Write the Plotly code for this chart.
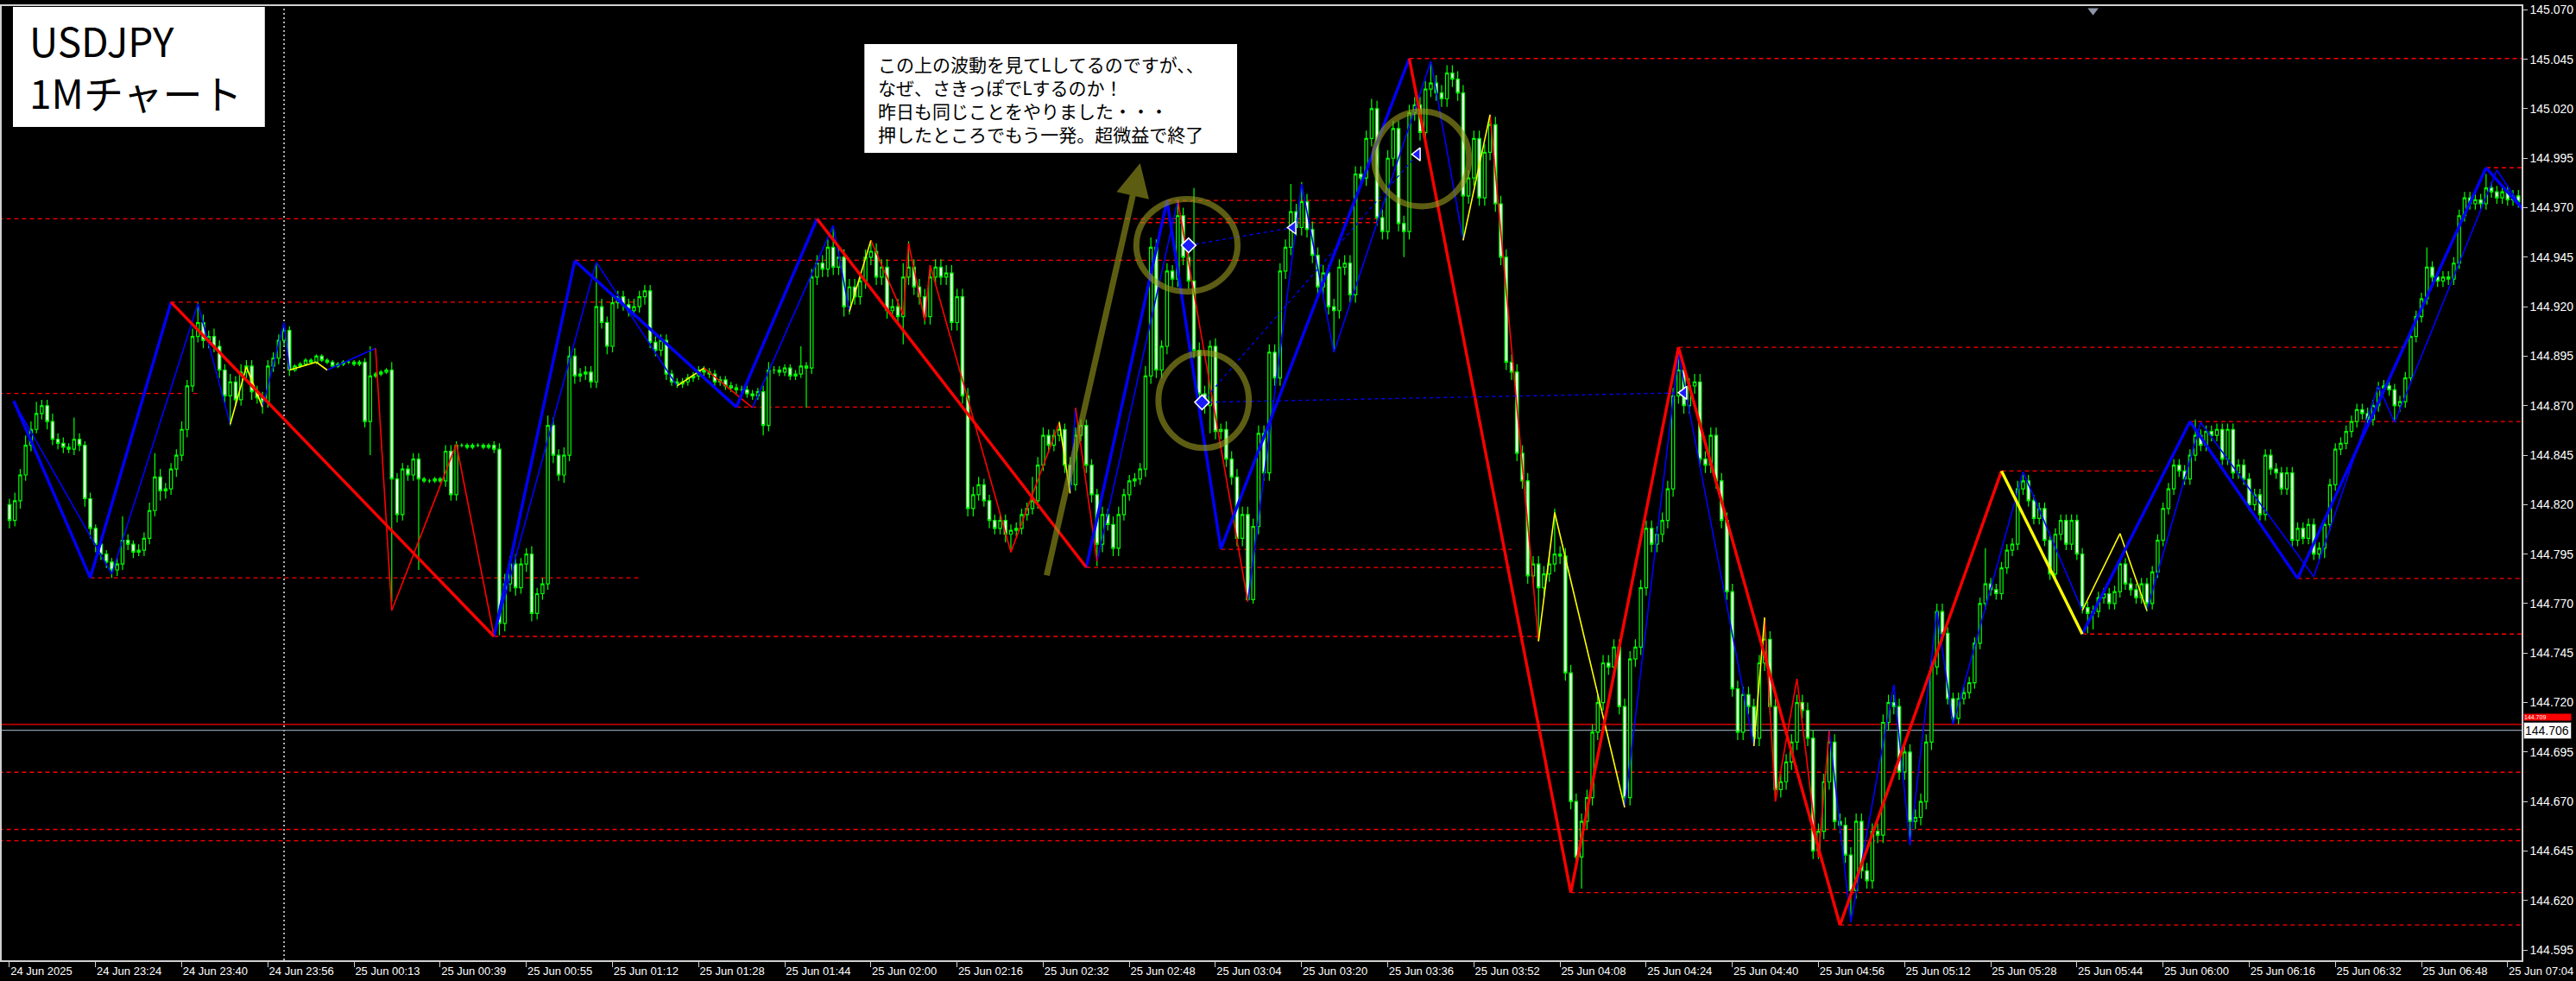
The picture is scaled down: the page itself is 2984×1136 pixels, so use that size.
import plotly.graph_objects as go

# ---------------- data (prices in points: 1 pt = 0.001 above 144.000) ----------------
BASE = 144.0
PT = 0.001

close_pts = [
    812, 822, 835, 850, 858, 866, 870, 862, 853, 851,
    849, 848, 853, 850, 823, 808, 800, 795, 791, 787,
    790, 802, 800, 796, 797, 803, 817, 834, 827, 828,
    838, 845, 858, 880, 905, 912, 903, 905, 900, 888,
    875, 882, 873, 887, 890, 877, 874, 872, 890, 894,
    903, 908, 888, 890, 891, 893, 892, 895, 893, 892,
    890, 891, 892, 892, 891, 892, 862, 885, 886, 887,
    888, 833, 815, 838, 835, 843, 833, 832, 832, 833,
    832, 847, 825, 850, 850, 849, 850, 850, 849, 850,
    848, 760, 780, 790, 778, 790, 795, 765, 775, 780,
    860, 845, 835, 845, 895, 885, 886, 887, 882, 920,
    912, 900, 922, 925, 921, 918, 920, 925, 928, 902,
    898, 903, 886, 882, 881, 882, 884, 885, 888, 887,
    886, 882, 883, 880, 879, 878, 878, 876, 875, 877,
    860, 888, 888, 887, 889, 885, 886, 890, 889, 935,
    942, 939, 950, 940, 945, 920, 930, 925, 933, 945,
    948, 935, 940, 918, 920, 915, 935, 940, 930, 925,
    915, 935, 940, 935, 937, 912, 925, 875, 818, 825,
    830, 822, 812, 808, 812, 805, 807, 808, 815, 818,
    822, 840, 855, 850, 855, 858, 840, 830, 855, 860,
    840, 825, 800, 815, 810, 798, 815, 825, 832, 833,
    838, 885, 950, 888, 900, 938, 934, 966, 945, 933,
    898, 876, 870, 900, 857, 858, 843, 834, 803, 815,
    772, 809, 856, 836, 897, 884, 938, 950, 968, 960,
    973, 959, 946, 930, 937, 920, 918, 940, 942, 926,
    987, 985, 1005, 1020, 965, 958, 995, 1010, 962, 958,
    1018, 1022, 1008, 1030, 1033, 1028, 1025, 1038, 1035, 1028,
    976, 985, 1005, 975, 998, 1012, 972, 945, 892, 887,
    846, 832, 784, 790, 778, 785, 790, 795, 794, 735,
    670, 642, 660, 672, 705, 720, 740, 738, 748, 718,
    672, 742, 748, 778, 808, 800, 805, 812, 828, 875,
    888, 870, 880, 882, 843, 840, 855, 832, 812, 776,
    727, 705, 724, 718, 702, 740, 752, 718, 676, 680,
    690, 700, 720, 716, 702, 645, 655, 680, 700, 660,
    658, 643, 625, 660, 635, 630, 655, 653, 710, 720,
    718, 685, 695, 660, 662, 670, 700, 738, 766, 755,
    722, 712, 722, 725, 730, 750, 770, 780, 777, 775,
    788, 797, 800, 828, 832, 822, 813, 818, 802, 785,
    805, 812, 800, 812, 795, 768, 765, 766, 773, 775,
    770, 776, 790, 780, 777, 773, 780, 770, 786, 802,
    818, 828, 840, 837, 833, 845, 855, 850, 857, 855,
    858, 843, 858, 836, 840, 833, 820, 825, 815, 845,
    838, 836, 828, 836, 802, 808, 803, 810, 795, 798,
    810, 830, 848, 851, 857, 862, 868, 866, 863, 870,
    879, 880, 878, 870, 872, 884, 905, 915, 924, 940,
    935, 933, 935, 934, 942, 966, 975, 972, 974, 972,
    980, 978, 975, 978, 974, 976, 973,
]
first_open_pts = 820

wick_up_pts = [
    3, 4, 3, 5, 4, 6, 3, 3, 4, 3,
    3, 2, 11, 3, 2, 3, 2, 3, 2, 2,
    3, 12, 3, 2, 3, 3, 4, 12, 4, 3,
    3, 3, 4, 3, 4, 10, 4, 3, 4, 3,
    3, 4, 3, 4, 3, 3, 3, 3, 3, 3,
    3, 3, 2, 1, 1, 1, 1, 1, 1, 1,
    1, 1, 1, 1, 1, 1, 2, 15, 1, 1,
    1, 4, 3, 3, 2, 3, 3, 1, 1, 1,
    1, 3, 3, 2, 1, 1, 1, 1, 1, 1,
    2, 3, 5, 4, 5, 3, 3, 4, 3, 3,
    5, 4, 3, 4, 5, 4, 3, 3, 3, 22,
    4, 3, 4, 3, 3, 3, 4, 3, 3, 3,
    3, 3, 3, 2, 2, 2, 2, 2, 2, 2,
    2, 2, 2, 2, 2, 2, 2, 2, 2, 2,
    3, 4, 2, 2, 2, 2, 2, 10, 2, 4,
    4, 4, 4, 11, 5, 4, 4, 4, 4, 4,
    4, 4, 4, 4, 4, 4, 7, 13, 4, 4,
    4, 4, 4, 4, 4, 4, 4, 4, 4, 4,
    4, 3, 3, 3, 4, 3, 3, 3, 3, 3,
    12, 4, 4, 3, 3, 4, 3, 4, 4, 3,
    3, 3, 3, 4, 3, 4, 4, 3, 3, 3,
    3, 5, 5, 4, 3, 4, 3, 8, 4, 4,
    47, 4, 4, 3, 4, 3, 4, 4, 4, 4,
    4, 4, 4, 4, 4, 4, 4, 4, 14, 4,
    10, 4, 4, 4, 4, 4, 4, 4, 4, 4,
    4, 4, 4, 5, 4, 4, 4, 4, 4, 4,
    4, 4, 4, 4, 11, 4, 4, 4, 4, 4,
    4, 4, 4, 4, 4, 5, 4, 4, 4, 4,
    4, 4, 4, 4, 4, 4, 4, 23, 4, 4,
    4, 4, 4, 4, 4, 4, 4, 4, 4, 4,
    4, 4, 4, 4, 4, 4, 4, 4, 4, 4,
    11, 4, 4, 4, 4, 4, 4, 4, 4, 4,
    4, 4, 4, 4, 4, 4, 11, 4, 4, 4,
    4, 4, 4, 4, 4, 4, 4, 4, 4, 4,
    4, 4, 4, 4, 4, 4, 4, 4, 4, 4,
    4, 4, 4, 4, 4, 4, 4, 4, 4, 4,
    3, 3, 3, 3, 3, 3, 3, 18, 3, 3,
    3, 3, 3, 4, 3, 3, 3, 3, 3, 3,
    3, 3, 3, 3, 3, 3, 3, 3, 3, 3,
    3, 3, 3, 3, 3, 3, 3, 3, 3, 3,
    3, 3, 3, 3, 3, 3, 8, 3, 3, 3,
    3, 3, 3, 3, 3, 3, 3, 3, 3, 3,
    3, 3, 3, 3, 3, 3, 3, 3, 3, 3,
    3, 3, 3, 3, 3, 3, 3, 3, 3, 3,
    3, 3, 3, 3, 3, 3, 3, 3, 3, 10,
    3, 3, 3, 3, 3, 3, 3, 3, 3, 3,
    7, 3, 3, 3, 3, 3, 3,
]
wick_dn_pts = [
    4, 3, 4, 3, 3, 2, 3, 4, 3, 3,
    3, 2, 3, 3, 4, 5, 4, 3, 3, 4,
    3, 3, 3, 3, 2, 3, 3, 3, 5, 4,
    3, 4, 3, 4, 3, 3, 4, 4, 3, 4,
    4, 15, 3, 3, 3, 4, 3, 6, 3, 3,
    3, 3, 3, 1, 1, 1, 1, 1, 1, 1,
    1, 1, 1, 1, 1, 1, 3, 17, 1, 1,
    1, 62, 4, 3, 3, 3, 46, 1, 1, 1,
    1, 3, 3, 3, 1, 1, 1, 1, 1, 1,
    2, 6, 4, 4, 4, 3, 4, 4, 3, 3,
    3, 4, 3, 4, 3, 4, 3, 3, 3, 3,
    3, 4, 3, 3, 3, 3, 3, 3, 4, 3,
    3, 3, 3, 2, 2, 2, 2, 2, 2, 2,
    2, 2, 2, 2, 2, 2, 2, 2, 2, 2,
    5, 3, 2, 2, 2, 2, 2, 2, 20, 3,
    4, 4, 4, 4, 4, 5, 4, 4, 4, 4,
    4, 4, 4, 4, 4, 4, 14, 4, 4, 4,
    4, 4, 4, 4, 4, 4, 4, 4, 4, 4,
    3, 3, 4, 3, 3, 4, 9, 3, 3, 3,
    3, 4, 3, 4, 3, 3, 4, 4, 3, 3,
    4, 4, 11, 4, 3, 4, 4, 3, 3, 3,
    3, 4, 4, 4, 4, 4, 4, 4, 4, 4,
    4, 4, 4, 14, 4, 4, 4, 4, 4, 4,
    1, 2, 4, 4, 4, 4, 4, 4, 4, 4,
    4, 4, 4, 4, 4, 4, 21, 4, 4, 4,
    4, 4, 4, 4, 4, 4, 4, 4, 4, 13,
    4, 4, 4, 4, 4, 4, 4, 4, 4, 4,
    22, 4, 4, 4, 4, 4, 4, 4, 4, 4,
    4, 4, 4, 4, 27, 4, 4, 4, 4, 4,
    4, 4, 16, 4, 4, 4, 4, 4, 4, 4,
    3, 4, 4, 4, 4, 4, 4, 4, 4, 4,
    4, 4, 4, 4, 4, 4, 4, 4, 4, 4,
    4, 4, 4, 4, 4, 4, 4, 4, 4, 4,
    4, 4, 4, 4, 4, 4, 4, 4, 4, 4,
    4, 4, 13, 4, 4, 4, 4, 4, 4, 4,
    4, 4, 4, 12, 4, 4, 4, 4, 4, 4,
    3, 3, 3, 3, 3, 3, 3, 3, 3, 3,
    3, 3, 3, 3, 3, 3, 3, 3, 3, 3,
    3, 3, 3, 3, 3, 3, 10, 8, 3, 3,
    3, 3, 3, 3, 3, 3, 3, 4, 3, 3,
    3, 3, 3, 3, 3, 3, 3, 3, 3, 3,
    3, 3, 3, 3, 3, 3, 3, 3, 3, 3,
    3, 3, 3, 3, 3, 3, 3, 3, 3, 3,
    5, 3, 3, 3, 3, 3, 3, 3, 3, 3,
    3, 3, 3, 8, 3, 3, 3, 3, 3, 3,
    3, 3, 3, 3, 3, 3, 3, 3, 3, 3,
    3, 3, 3, 3, 3, 3, 3,
]

x_tick_bars = [0, 16, 32, 48, 64, 80, 96, 112, 128, 144, 160, 176, 192, 208, 224,
               240, 256, 272, 288, 304, 320, 336, 352, 368, 384, 400, 416, 432, 448, 464]
x_tick_labels = ["24 Jun 2025", "24 Jun 23:24", "24 Jun 23:40", "24 Jun 23:56", "25 Jun 00:13",
                 "25 Jun 00:39", "25 Jun 00:55", "25 Jun 01:12", "25 Jun 01:28", "25 Jun 01:44",
                 "25 Jun 02:00", "25 Jun 02:16", "25 Jun 02:32", "25 Jun 02:48", "25 Jun 03:04",
                 "25 Jun 03:20", "25 Jun 03:36", "25 Jun 03:52", "25 Jun 04:08", "25 Jun 04:24",
                 "25 Jun 04:40", "25 Jun 04:56", "25 Jun 05:12", "25 Jun 05:28", "25 Jun 05:44",
                 "25 Jun 06:00", "25 Jun 06:16", "25 Jun 06:32", "25 Jun 06:48", "25 Jun 07:04"]
y_tick_prices = [144.595, 144.620, 144.645, 144.670, 144.695, 144.720, 144.745, 144.770,
                 144.795, 144.820, 144.845, 144.870, 144.895, 144.920, 144.945, 144.970,
                 144.995, 145.020, 145.045, 145.070]

# slow (thick) zigzag pivots
zz_main_bars = [0.8, 15, 30, 90, 105, 135, 150, 200, 215, 225, 260, 290, 310, 340, 370, 385, 405, 425, 460, 466.9]
zz_main_pts = [872.4, 783, 922.3, 753.4, 943.2, 869.3, 964.4, 788.3, 973.7, 797.6, 1045.4, 624, 899.5,
               607.6, 837, 754.6, 862, 782.7, 990.2, 969]
zz_main_seg = ["b", "b", "r", "b", "b", "b", "r", "b", "b", "b", "r", "r", "r", "r", "y", "b", "b", "b", "b"]

# fast (thin) zigzag pivots
zz_fast_bars = [0.8, 19, 35, 41, 44, 47, 51, 52, 57, 59, 68, 71, 83, 90, 109, 124, 129, 138, 153, 156,
                160, 166, 167, 170, 171, 186, 195, 197, 198, 202, 217, 230, 240, 246, 264, 270, 275,
                284, 287, 300, 310, 324, 326, 328, 332, 336, 338, 342, 350, 353, 358, 361, 374, 385,
                392, 397, 407, 428, 440, 443, 462, 466.9]
zz_fast_pts = [872, 785, 921.5, 860.6, 889.6, 869.3, 912, 888, 892, 888, 899, 766.5, 850.6, 753.4,
               942.5, 880, 889, 869, 961, 917.6, 953.5, 916, 952, 913, 941, 796, 861.5, 825.7, 869,
               791.4, 973.7, 771, 982, 897, 1044, 953.5, 1017, 751, 816, 667, 896, 698, 763, 670,
               732, 642, 705.7, 609, 729, 648, 766, 709, 836.6, 766.5, 805.4, 766.5, 861.5, 783.6,
               880, 861.5, 989, 969]
zz_fast_seg = ["b", "b", "b", "y", "y", "b", "b", "y", "y", "b", "r", "r", "r", "b", "b", "y", "r",
               "b", "b", "y", "r", "r", "r", "r", "r", "r", "y", "b", "r", "b", "r", "b", "b", "b",
               "b", "y", "r", "y", "y", "b", "b", "y", "r", "r", "r", "r", "b", "b", "b", "b", "b",
               "b", "b", "y", "y", "b", "b", "b", "b", "b", "b"]

# support / resistance levels (dashed red)
sr_pts = [964.4, 962.5, 922.3, 876.2, 783, 753.4, 684.8, 655.9, 650.2, 943.5, 869.3, 788.3, 973.7,
          797.4, 1045.4, 899.5, 624, 607.6, 990.2, 862, 837, 782.7, 754.6]
sr_from = [-2, 210, 30, -2, 15, 90, -2, -2, -2, 105, 135, 200, 215, 225, 260, 310, 290, 340, 460,
           405, 370, 425, 385]
sr_to = [254, 254, 116, 35, 117, 284, 470, 470, 470, 235, 175, 279, 255, 279, 470, 445, 470, 470,
         470, 470, 399, 470, 470]

bid_price = 144.706
ask_price = 144.709

# blue dashed order lines and their markers
order_from_bar = [219, 221.5, 221.5]
order_to_bar = [238.4, 311, 261.5]
order_from_pts = [951, 871.7, 871.7]
order_to_pts = [960, 876.5, 997]
mark_bars = [219, 221.5, 238.4, 261.5, 311]
mark_pts = [951, 871.7, 960, 997, 876.5]
mark_symbols = ["diamond", "diamond", "triangle-left", "triangle-left", "triangle-left"]

# hand-drawn circles (centre bar, centre pts, radius bars, radius pts) and arrow
circ_bar = [218.7, 221.8, 262.3]
circ_pts = [951, 872.6, 994.7]
circ_rbar = [9.4, 8.4, 8.8]
circ_rpts = [23.4, 24, 24]
arrow_from = (192.6, 783.6)
arrow_to = (210, 992.5)

separator_bar = 51

title_lines = ["USDJPY", "1Mチャート"]
note_lines = ["この上の波動を見てLしてるのですが、、",
              "なぜ、さきっぽでLするのか！",
              "昨日も同じことをやりました・・・",
              "押したところでもう一発。超微益で終了"]

# ---------------- build ----------------
W, H = 2984, 1136
ML, MR, MT, MB = 0, 63, 7, 24
PW, PH = W - ML - MR, H - MT - MB


def px(xpix):
    return (xpix - ML) / PW


def py(ypix):
    return 1 - (ypix - MT) / PH


def price(v):
    return BASE + v * PT


n = len(close_pts)
bars = list(range(n))
opens = [first_open_pts] + close_pts[:-1]
highs = [max(o, c) + u for o, c, u in zip(opens, close_pts, wick_up_pts)]
lows = [min(o, c) - d for o, c, d in zip(opens, close_pts, wick_dn_pts)]

COL = {"b": "#0000ff", "r": "#ff0000", "y": "#ffff00"}
OLIVE = "rgba(150,150,30,0.62)"

fig = go.Figure()

fig.add_trace(go.Candlestick(
    x=bars,
    open=[price(v) for v in opens], high=[price(v) for v in highs],
    low=[price(v) for v in lows], close=[price(v) for v in close_pts],
    increasing=dict(line=dict(color="#00ff00", width=1.2), fillcolor="#000000"),
    decreasing=dict(line=dict(color="#00ff00", width=1.2), fillcolor="#ffffff"),
    whiskerwidth=0, hoverinfo="skip", showlegend=False,
))


def add_zigzag(bx, pv, segs, width):
    for key in ("b", "r", "y"):
        xs, ys = [], []
        for k, s in enumerate(segs):
            if s == key:
                xs += [bx[k], bx[k + 1], None]
                ys += [price(pv[k]), price(pv[k + 1]), None]
        if xs:
            fig.add_trace(go.Scatter(x=xs, y=ys, mode="lines", line=dict(color=COL[key], width=width),
                                     hoverinfo="skip", showlegend=False))


add_zigzag(zz_fast_bars, zz_fast_pts, zz_fast_seg, 1.6)
add_zigzag(zz_main_bars, zz_main_pts, zz_main_seg, 3.4)

for a, b, p0, p1 in zip(order_from_bar, order_to_bar, order_from_pts, order_to_pts):
    fig.add_trace(go.Scatter(x=[a, b], y=[price(p0), price(p1)], mode="lines",
                             line=dict(color="#0000ff", width=1.3, dash="4px,4px"),
                             hoverinfo="skip", showlegend=False))

fig.add_trace(go.Scatter(
    x=mark_bars, y=[price(v) for v in mark_pts], mode="markers",
    marker=dict(symbol=mark_symbols, size=13, color="#1a1aff", line=dict(color="white", width=1.5)),
    hoverinfo="skip", showlegend=False))

# chart-shift marker at the top
fig.add_trace(go.Scatter(x=[387], y=[price(1069.6)], mode="markers",
                         marker=dict(symbol="triangle-down", size=11, color="#8c96a8"),
                         cliponaxis=False, hoverinfo="skip", showlegend=False))

shapes = []
for p, a, b in zip(sr_pts, sr_from, sr_to):
    shapes.append(dict(type="line", xref="x", yref="y", x0=a, x1=b, y0=price(p), y1=price(p),
                       line=dict(color="#ff0000", width=1.3, dash="5px,4px"), layer="below"))
shapes.append(dict(type="line", xref="x", yref="y", x0=-2, x1=470, y0=ask_price, y1=ask_price,
                   line=dict(color="#ff0000", width=1.3), layer="below"))
shapes.append(dict(type="line", xref="x", yref="y", x0=-2, x1=470, y0=bid_price, y1=bid_price,
                   line=dict(color="#8a9aa8", width=1.3), layer="below"))
shapes.append(dict(type="line", xref="x", yref="paper", x0=separator_bar, x1=separator_bar, y0=0, y1=1,
                   line=dict(color="#d8d8d8", width=1.6, dash="2px,3px"), layer="below"))
for cb, cp, rb, rp in zip(circ_bar, circ_pts, circ_rbar, circ_rpts):
    shapes.append(dict(type="circle", xref="x", yref="y", x0=cb - rb, x1=cb + rb,
                       y0=price(cp - rp), y1=price(cp + rp), line=dict(color=OLIVE, width=7)))
# text boxes
shapes.append(dict(type="rect", xref="paper", yref="paper", x0=px(13), x1=px(305), y0=py(147), y1=py(8),
                   fillcolor="white", line=dict(width=0)))
shapes.append(dict(type="rect", xref="paper", yref="paper", x0=px(1000), x1=px(1432), y0=py(177), y1=py(51),
                   fillcolor="white", line=dict(width=0)))

annotations = [
    dict(x=arrow_to[0], y=price(arrow_to[1]), ax=arrow_from[0], ay=price(arrow_from[1]),
         xref="x", yref="y", axref="x", ayref="y", text="", showarrow=True,
         arrowhead=2, arrowsize=1.1, arrowwidth=7, arrowcolor=OLIVE),
]
title_centres = [46, 106]
for t, yc in zip(title_lines, title_centres):
    annotations.append(dict(x=px(30), y=py(yc), xref="paper", yref="paper", xanchor="left",
                            yanchor="middle", text=t, showarrow=False,
                            font=dict(family="Noto Sans CJK JP", size=46, color="black")))
note_centres = [74, 101, 128, 155]
for t, yc in zip(note_lines, note_centres):
    annotations.append(dict(x=px(1014), y=py(yc), xref="paper", yref="paper", xanchor="left",
                            yanchor="middle", text=t, showarrow=False,
                            font=dict(family="Noto Sans CJK JP", size=21, color="black")))
# ask label: red strip sitting just above the bid label
annotations.append(dict(x=1, y=bid_price, xref="paper", yref="y", xanchor="left", yanchor="bottom",
                        xshift=2, yshift=11, width=54, align="left", text=f"{ask_price:.3f}",
                        showarrow=False, bgcolor="#ff0000",
                        font=dict(family="Liberation Sans", size=7, color="white"), borderpad=0))
annotations.append(dict(x=1, y=bid_price, xref="paper", yref="y", xanchor="left", yanchor="middle",
                        xshift=2, width=52, align="left", text=f"{bid_price:.3f}", showarrow=False,
                        bgcolor="white", bordercolor="#404040", borderwidth=1,
                        font=dict(family="Liberation Sans", size=14, color="black"), borderpad=1))

fig.update_layout(
    width=W, height=H,
    margin=dict(l=ML, r=MR, t=MT, b=MB, pad=0),
    paper_bgcolor="black", plot_bgcolor="black",
    showlegend=False, shapes=shapes, annotations=annotations,
    boxgap=0.25,
    xaxis=dict(range=[-1.44, 466.6], rangeslider=dict(visible=False), showgrid=False, zeroline=False,
               tickmode="array", tickvals=x_tick_bars, ticktext=x_tick_labels,
               ticks="outside", ticklen=6, tickcolor="#d0d0d0", tickwidth=1,
               ticklabelposition="outside right",
               tickfont=dict(family="Liberation Sans", size=13, color="white"),
               showline=True, linecolor="#d0d0d0", linewidth=1.5, mirror=True),
    yaxis=dict(range=[price(589.8), price(1071.9)], side="right", showgrid=False, zeroline=False,
               tickmode="array", tickvals=y_tick_prices, ticktext=[f"{v:.3f}" for v in y_tick_prices],
               ticks="outside", ticklen=5, tickcolor="#d0d0d0",
               tickfont=dict(family="Liberation Sans", size=14, color="white"),
               showline=True, linecolor="#d0d0d0", linewidth=1.5, mirror=True),
)

fig.write_html("out.html", config={"displayModeBar": False},
               post_script="document.body.style.margin='0';document.body.style.background='black';")
